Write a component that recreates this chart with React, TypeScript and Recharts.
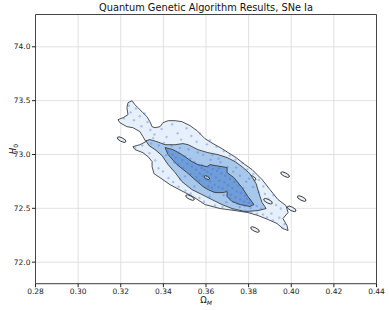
import { CartesianGrid, ReferenceArea, Scatter, ScatterChart, XAxis, YAxis } from "recharts"

const xTicks = [0.28, 0.3, 0.32, 0.34, 0.36, 0.38, 0.4, 0.42, 0.44]
const yTicks = [72.0, 72.5, 73.0, 73.5, 74.0]

// outermost (lightest) contour level
const outerContour = [
  { x: 0.3187, y: 73.323 }, { x: 0.3211, y: 73.342 }, { x: 0.3234, y: 73.37 }, { x: 0.3229, y: 73.434 },
  { x: 0.3234, y: 73.481 }, { x: 0.3253, y: 73.499 }, { x: 0.3267, y: 73.462 }, { x: 0.3281, y: 73.434 },
  { x: 0.3304, y: 73.388 }, { x: 0.3323, y: 73.351 }, { x: 0.3337, y: 73.305 }, { x: 0.3347, y: 73.258 },
  { x: 0.3361, y: 73.249 }, { x: 0.3384, y: 73.258 }, { x: 0.3398, y: 73.295 }, { x: 0.3422, y: 73.314 },
  { x: 0.3455, y: 73.314 }, { x: 0.3487, y: 73.305 }, { x: 0.3525, y: 73.268 }, { x: 0.3558, y: 73.221 },
  { x: 0.3595, y: 73.147 }, { x: 0.3633, y: 73.101 }, { x: 0.3675, y: 73.054 }, { x: 0.3741, y: 72.971 },
  { x: 0.3783, y: 72.906 }, { x: 0.3816, y: 72.86 }, { x: 0.3863, y: 72.767 }, { x: 0.39, y: 72.674 },
  { x: 0.3938, y: 72.581 }, { x: 0.3975, y: 72.526 }, { x: 0.3985, y: 72.461 }, { x: 0.3961, y: 72.405 },
  { x: 0.398, y: 72.34 }, { x: 0.3985, y: 72.294 }, { x: 0.3961, y: 72.312 }, { x: 0.3933, y: 72.359 },
  { x: 0.3891, y: 72.396 }, { x: 0.3844, y: 72.433 }, { x: 0.3797, y: 72.461 }, { x: 0.3736, y: 72.479 },
  { x: 0.3666, y: 72.498 }, { x: 0.3595, y: 72.535 }, { x: 0.3539, y: 72.609 }, { x: 0.3492, y: 72.656 },
  { x: 0.3431, y: 72.72 }, { x: 0.3384, y: 72.785 }, { x: 0.3356, y: 72.822 }, { x: 0.3347, y: 72.887 },
  { x: 0.3347, y: 72.934 }, { x: 0.3328, y: 72.98 }, { x: 0.3304, y: 73.017 }, { x: 0.3267, y: 73.045 },
  { x: 0.3257, y: 73.073 }, { x: 0.329, y: 73.091 }, { x: 0.3318, y: 73.119 }, { x: 0.3304, y: 73.166 },
  { x: 0.329, y: 73.212 }, { x: 0.3257, y: 73.249 }, { x: 0.3229, y: 73.258 }, { x: 0.3196, y: 73.295 },
]

const middleContour = [
  { x: 0.3318, y: 73.128 }, { x: 0.3337, y: 73.138 }, { x: 0.337, y: 73.119 }, { x: 0.3408, y: 73.091 },
  { x: 0.3455, y: 73.091 }, { x: 0.3492, y: 73.101 }, { x: 0.3516, y: 73.091 }, { x: 0.3562, y: 73.045 },
  { x: 0.3609, y: 73.017 }, { x: 0.3656, y: 72.999 }, { x: 0.3699, y: 72.971 }, { x: 0.3736, y: 72.934 },
  { x: 0.3769, y: 72.887 }, { x: 0.3806, y: 72.822 }, { x: 0.3835, y: 72.73 }, { x: 0.3849, y: 72.637 },
  { x: 0.3863, y: 72.554 }, { x: 0.3882, y: 72.498 }, { x: 0.3844, y: 72.479 }, { x: 0.3783, y: 72.47 },
  { x: 0.3722, y: 72.498 }, { x: 0.3675, y: 72.535 }, { x: 0.3628, y: 72.581 }, { x: 0.3581, y: 72.628 },
  { x: 0.3534, y: 72.674 }, { x: 0.3487, y: 72.748 }, { x: 0.3455, y: 72.832 }, { x: 0.3422, y: 72.906 },
  { x: 0.3394, y: 72.989 }, { x: 0.3361, y: 73.045 }, { x: 0.3333, y: 73.082 },
]

const innerContour = [
  { x: 0.3408, y: 73.064 }, { x: 0.3445, y: 73.045 }, { x: 0.3487, y: 72.999 }, { x: 0.3534, y: 72.934 },
  { x: 0.3562, y: 72.906 }, { x: 0.3605, y: 72.887 }, { x: 0.3619, y: 72.906 }, { x: 0.3642, y: 72.897 },
  { x: 0.3675, y: 72.887 }, { x: 0.3699, y: 72.878 }, { x: 0.3699, y: 72.832 }, { x: 0.3731, y: 72.785 },
  { x: 0.3769, y: 72.693 }, { x: 0.3797, y: 72.609 }, { x: 0.3825, y: 72.535 }, { x: 0.3806, y: 72.517 },
  { x: 0.376, y: 72.535 }, { x: 0.3722, y: 72.563 }, { x: 0.3699, y: 72.609 }, { x: 0.3699, y: 72.656 },
  { x: 0.368, y: 72.646 }, { x: 0.3642, y: 72.646 }, { x: 0.3609, y: 72.674 }, { x: 0.3586, y: 72.702 },
  { x: 0.3548, y: 72.767 }, { x: 0.3511, y: 72.832 }, { x: 0.3464, y: 72.906 }, { x: 0.3422, y: 72.999 },
]

// small isolated islands of the outer level
const islands = [
  { x: 0.3204, y: 73.138 }, { x: 0.3525, y: 72.6 }, { x: 0.3814, y: 72.785 }, { x: 0.3891, y: 72.566 },
  { x: 0.3971, y: 72.813 }, { x: 0.4002, y: 72.495 }, { x: 0.383, y: 72.303 }, { x: 0.4049, y: 72.591 },
]

const innerHoles = [{ x: 0.3604, y: 72.785 }]

const coreSamples = [
  { x: 0.3421, y: 73.027 }, { x: 0.3443, y: 72.998 }, { x: 0.3458, y: 72.971 }, { x: 0.3472, y: 73.018 },
  { x: 0.3489, y: 72.948 }, { x: 0.3502, y: 72.983 }, { x: 0.3513, y: 72.915 }, { x: 0.3527, y: 72.962 },
  { x: 0.3534, y: 72.887 }, { x: 0.3546, y: 72.931 }, { x: 0.3553, y: 72.858 }, { x: 0.3566, y: 72.902 },
  { x: 0.3571, y: 72.826 }, { x: 0.3579, y: 72.874 }, { x: 0.3584, y: 72.803 }, { x: 0.3593, y: 72.857 },
  { x: 0.3598, y: 72.772 }, { x: 0.3607, y: 72.838 }, { x: 0.3612, y: 72.887 }, { x: 0.3618, y: 72.751 },
  { x: 0.3624, y: 72.816 }, { x: 0.3633, y: 72.866 }, { x: 0.3641, y: 72.718 }, { x: 0.3646, y: 72.787 },
  { x: 0.3652, y: 72.848 }, { x: 0.3659, y: 72.697 }, { x: 0.3664, y: 72.758 }, { x: 0.3672, y: 72.826 },
  { x: 0.3678, y: 72.683 }, { x: 0.3686, y: 72.741 }, { x: 0.3691, y: 72.803 }, { x: 0.3697, y: 72.661 },
  { x: 0.3703, y: 72.714 }, { x: 0.3712, y: 72.772 }, { x: 0.3718, y: 72.627 }, { x: 0.3724, y: 72.688 },
  { x: 0.3733, y: 72.745 }, { x: 0.3739, y: 72.604 }, { x: 0.3744, y: 72.657 }, { x: 0.3752, y: 72.711 },
  { x: 0.3761, y: 72.583 }, { x: 0.3763, y: 72.642 }, { x: 0.3774, y: 72.686 }, { x: 0.3779, y: 72.562 },
  { x: 0.3783, y: 72.617 }, { x: 0.3792, y: 72.589 }, { x: 0.3801, y: 72.552 }, { x: 0.3807, y: 72.578 },
  { x: 0.3818, y: 72.543 }, { x: 0.3581, y: 72.903 }, { x: 0.3662, y: 72.871 }, { x: 0.3628, y: 72.692 },
  { x: 0.3556, y: 72.79 }, { x: 0.3699, y: 72.62 },
]

const middleSamples = [
  { x: 0.3343, y: 73.101 }, { x: 0.3378, y: 73.083 }, { x: 0.3402, y: 73.107 }, { x: 0.3412, y: 72.992 },
  { x: 0.3438, y: 73.079 }, { x: 0.3451, y: 72.928 }, { x: 0.3477, y: 73.061 }, { x: 0.3492, y: 72.873 },
  { x: 0.3518, y: 73.046 }, { x: 0.3528, y: 72.818 }, { x: 0.3561, y: 73.018 }, { x: 0.3569, y: 72.757 },
  { x: 0.3587, y: 72.996 }, { x: 0.3611, y: 72.703 }, { x: 0.3622, y: 72.951 }, { x: 0.3639, y: 72.653 },
  { x: 0.3668, y: 72.928 }, { x: 0.3683, y: 72.621 }, { x: 0.3701, y: 72.884 }, { x: 0.3712, y: 72.593 },
  { x: 0.3728, y: 72.839 }, { x: 0.3748, y: 72.542 }, { x: 0.3759, y: 72.802 }, { x: 0.3781, y: 72.521 },
  { x: 0.3789, y: 72.748 }, { x: 0.3809, y: 72.503 }, { x: 0.3821, y: 72.698 }, { x: 0.3838, y: 72.521 },
  { x: 0.3848, y: 72.648 }, { x: 0.3858, y: 72.497 }, { x: 0.3631, y: 72.998 }, { x: 0.3502, y: 72.797 },
  { x: 0.3468, y: 72.909 }, { x: 0.3659, y: 72.962 }, { x: 0.3742, y: 72.878 }, { x: 0.3802, y: 72.776 },
]

const outerSamples = [
  { x: 0.3215, y: 73.335 }, { x: 0.3238, y: 73.452 }, { x: 0.3246, y: 73.391 }, { x: 0.3262, y: 73.318 },
  { x: 0.3271, y: 73.428 }, { x: 0.3289, y: 73.356 }, { x: 0.3297, y: 73.262 }, { x: 0.3312, y: 73.381 },
  { x: 0.3326, y: 73.301 }, { x: 0.3339, y: 73.227 }, { x: 0.3352, y: 73.152 }, { x: 0.3268, y: 73.062 },
  { x: 0.3301, y: 73.084 }, { x: 0.3335, y: 73.012 }, { x: 0.3362, y: 72.944 }, { x: 0.3377, y: 72.872 },
  { x: 0.3358, y: 73.185 }, { x: 0.3392, y: 73.236 }, { x: 0.3415, y: 73.162 }, { x: 0.3441, y: 73.281 },
  { x: 0.3467, y: 73.197 }, { x: 0.3483, y: 73.138 }, { x: 0.3509, y: 73.243 }, { x: 0.3531, y: 73.171 },
  { x: 0.3556, y: 73.118 }, { x: 0.3572, y: 73.196 }, { x: 0.3604, y: 73.094 }, { x: 0.3618, y: 73.132 },
  { x: 0.3649, y: 73.071 }, { x: 0.3683, y: 73.032 }, { x: 0.3712, y: 72.991 }, { x: 0.3738, y: 72.952 },
  { x: 0.3771, y: 72.921 }, { x: 0.3794, y: 72.862 }, { x: 0.3822, y: 72.818 }, { x: 0.3848, y: 72.764 },
  { x: 0.3869, y: 72.703 }, { x: 0.3876, y: 72.634 }, { x: 0.3893, y: 72.587 }, { x: 0.3917, y: 72.622 },
  { x: 0.3929, y: 72.531 }, { x: 0.3951, y: 72.498 }, { x: 0.3944, y: 72.412 }, { x: 0.3968, y: 72.352 },
  { x: 0.3957, y: 72.319 }, { x: 0.3398, y: 72.842 }, { x: 0.3424, y: 72.781 }, { x: 0.3446, y: 72.745 },
  { x: 0.3471, y: 72.701 }, { x: 0.3478, y: 72.772 }, { x: 0.3503, y: 72.664 }, { x: 0.3528, y: 72.638 },
  { x: 0.3546, y: 72.702 }, { x: 0.3569, y: 72.597 }, { x: 0.3591, y: 72.561 }, { x: 0.3617, y: 72.608 },
  { x: 0.3642, y: 72.527 }, { x: 0.3677, y: 72.512 }, { x: 0.3695, y: 72.557 }, { x: 0.3727, y: 72.488 },
  { x: 0.3758, y: 72.512 }, { x: 0.3784, y: 72.475 }, { x: 0.3812, y: 72.462 }, { x: 0.3839, y: 72.451 },
  { x: 0.3868, y: 72.442 }, { x: 0.3886, y: 72.416 }, { x: 0.3907, y: 72.452 }, { x: 0.3913, y: 72.388 },
]

const FONT = "DejaVu Sans"
const LIGHT = "#e6f0fa"
const MID = "#a7c8ea"
const DARK = "#6f9dd6"
const EDGE = "#333"

const closedPath = (pts: { x: number; y: number }[]) =>
  pts.map((p, i) => `${i ? "L" : "M"}${p.x},${p.y}`).join("") + "Z"

const contourLine = (fill: string) => (props: any) =>
  <path d={closedPath(props.points)} fill={fill} stroke={EDGE} strokeWidth={0.85} strokeLinejoin="round" />

const noMark = () => <g />

const ellipseMark = (fill: string, rx: number, ry: number) => (props: any) =>
  <ellipse cx={props.cx} cy={props.cy} rx={rx} ry={ry} transform={`rotate(27 ${props.cx} ${props.cy})`}
    fill={fill} stroke={EDGE} strokeWidth={0.85} />

const dotMark = (props: any) => <circle cx={props.cx} cy={props.cy} r={1.2} fill="#3f63ee" fillOpacity={0.35} />

const tickStyle = { fontSize: 7.5, fill: "#222", fontFamily: FONT }

export default function App() {
  return (
    <div style={{ position: "absolute", left: 0, top: 0, width: 389, height: 310, background: "#fff" }}>
      <div style={{ position: "absolute", left: 35.5, width: 341, top: 1.5, textAlign: "center", fontFamily: FONT, fontSize: 9.8, lineHeight: "11px", color: "#111" }}>
        Quantum Genetic Algorithm Results, SNe Ia
      </div>
      <ScatterChart width={389} height={310} margin={{ top: 14.5, right: 12.5, bottom: 0, left: 0 }}>
        <CartesianGrid stroke="#dcdcdc" strokeWidth={0.9} />
        <XAxis type="number" dataKey="x" domain={[0.28, 0.44]} ticks={xTicks} interval={0} allowDataOverflow
          tickFormatter={(v: number) => v.toFixed(2)} height={26.3} axisLine={false} tickSize={3.5} tickMargin={1.5}
          tickLine={{ stroke: "#222" }} tick={tickStyle}
          label={{
            content: (p: any) => {
              const vb = p.viewBox
              return (
                <text x={vb.x + vb.width / 2} y={303} textAnchor="middle" fontFamily={FONT} fontSize={8.5} fill="#111">
                  Ω<tspan fontSize={6} fontStyle="italic" dy={2}>M</tspan>
                </text>
              )
            },
          }} />
        <YAxis type="number" dataKey="y" domain={[71.8, 74.3]} ticks={yTicks} interval={0} allowDataOverflow
          tickFormatter={(v: number) => v.toFixed(1)} width={35.5} axisLine={false} tickSize={3.5} tickMargin={1.5}
          tickLine={{ stroke: "#222" }} tick={tickStyle}
          label={{
            content: (p: any) => {
              const vb = p.viewBox
              const cy = vb.y + vb.height / 2
              return (
                <text x={16} y={cy} transform={`rotate(-90 16 ${cy})`} textAnchor="middle" fontFamily={FONT} fontSize={8.5} fill="#111">
                  <tspan fontStyle="italic">H</tspan><tspan fontSize={6} dy={2}>0</tspan>
                </text>
              )
            },
          }} />
        <Scatter data={outerContour} shape={noMark} line={contourLine(LIGHT)} isAnimationActive={false} />
        <Scatter data={islands} shape={ellipseMark(LIGHT, 4.8, 1.8)} isAnimationActive={false} />
        <Scatter data={middleContour} shape={noMark} line={contourLine(MID)} isAnimationActive={false} />
        <Scatter data={innerContour} shape={noMark} line={contourLine(DARK)} isAnimationActive={false} />
        <Scatter data={innerHoles} shape={ellipseMark(MID, 3, 1.4)} isAnimationActive={false} />
        <Scatter data={outerSamples} shape={dotMark} isAnimationActive={false} />
        <Scatter data={middleSamples} shape={dotMark} isAnimationActive={false} />
        <Scatter data={coreSamples} shape={dotMark} isAnimationActive={false} />
        <ReferenceArea x1={0.28} x2={0.44} y1={71.8} y2={74.3} fill="none" stroke="#333" strokeWidth={0.9} ifOverflow="visible" />
      </ScatterChart>
    </div>
  )
}
